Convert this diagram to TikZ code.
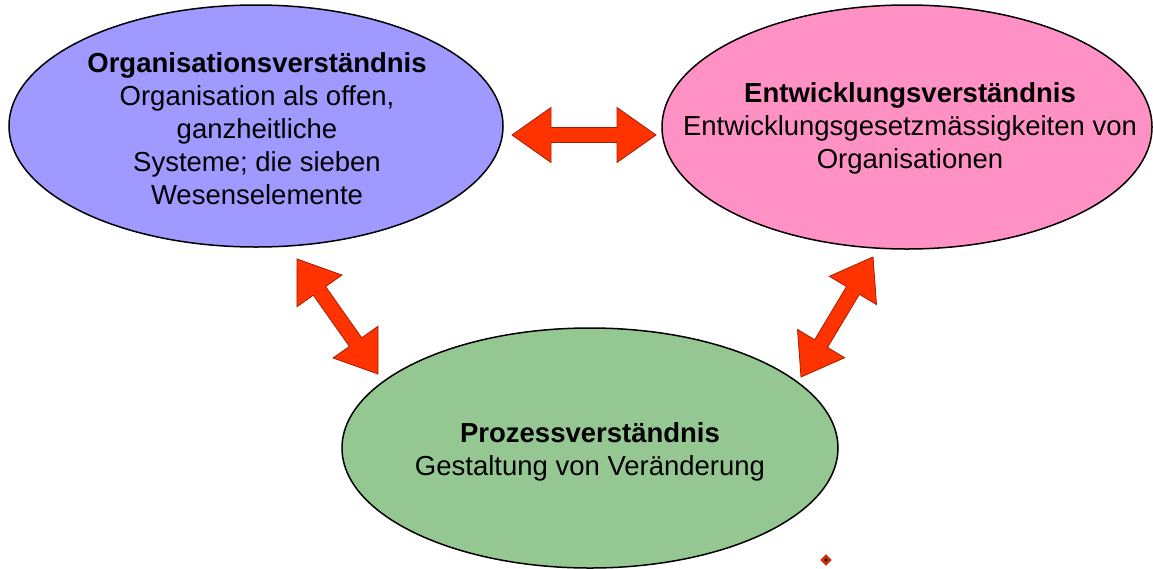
\documentclass[tikz,border=0pt]{standalone}
\usepackage{fontspec}
\setmainfont{Liberation Sans}
\usetikzlibrary{shapes.geometric,calc}
\definecolor{orgblue}{HTML}{A099FF}
\definecolor{entpink}{HTML}{FF91C5}
\definecolor{progreen}{HTML}{95C792}
\definecolor{arrfill}{HTML}{FF3300}
\definecolor{arrline}{HTML}{A81C00}
\newcommand\dblarrow[2]{%
  \fill[arrfill,draw=arrline,line width=0.8pt,line join=miter]
    (#1)
    -- ($(#1)!39pt!(#2)!27.5pt!90:(#2)$)
    -- ($(#1)!39pt!(#2)!7.5pt!90:(#2)$)
    -- ($(#2)!39pt!(#1)!7.5pt!-90:(#1)$)
    -- ($(#2)!39pt!(#1)!27.5pt!-90:(#1)$)
    -- (#2)
    -- ($(#2)!39pt!(#1)!27.5pt!90:(#1)$)
    -- ($(#2)!39pt!(#1)!7.5pt!90:(#1)$)
    -- ($(#1)!39pt!(#2)!7.5pt!-90:(#2)$)
    -- ($(#1)!39pt!(#2)!27.5pt!-90:(#2)$)
    -- cycle;}
\tikzset{
  oval/.style={ellipse, draw=black, line width=1.5pt, inner sep=0pt},
  txt/.style={align=center, font=\fontsize{27.5}{33}\selectfont, inner sep=0pt}
}
\begin{document}
\begin{tikzpicture}[x=1pt,y=-1pt]
\useasboundingbox[fill=white] (0,0) rectangle (1153,568);
% ellipses
\node[oval, fill=orgblue, minimum width=494pt, minimum height=242pt] (org) at (256,126) {};
\node[oval, fill=entpink, minimum width=490pt, minimum height=244pt] (ent) at (907,127) {};
\node[oval, fill=progreen, minimum width=496pt, minimum height=240pt] (pro) at (590,448) {};
% texts
\node[txt] (orgt) at (257,129) {\textbf{Organisationsverständnis}\\Organisation als offen,\\ganzheitliche\\Systeme; die sieben\\Wesenselemente};
\node[txt] (entt) at (910,128) {\textbf{Entwicklungsverständnis}\\Entwicklungsgesetzmässigkeiten von\\Organisationen};
\node[txt] (prot) at (590,452) {\textbf{Prozessverständnis}\\Gestaltung von Veränderung};
% arrow end points
\coordinate (h1) at (512,135);
\coordinate (h2) at (656,135);
\coordinate (l1) at (297,259);
\coordinate (l2) at (378,374);
\coordinate (r1) at (873,257);
\coordinate (r2) at (801,377);
\dblarrow{h1}{h2}
\dblarrow{l1}{l2}
\dblarrow{r1}{r2}
% small marker
\node[diamond, fill=arrfill!85!black, draw=arrline, line width=0.4pt, minimum width=11pt, minimum height=11pt, inner sep=0pt] (mk) at (826,560) {};
\fill[black] (mk) circle (1.6pt);
\end{tikzpicture}
\end{document}
